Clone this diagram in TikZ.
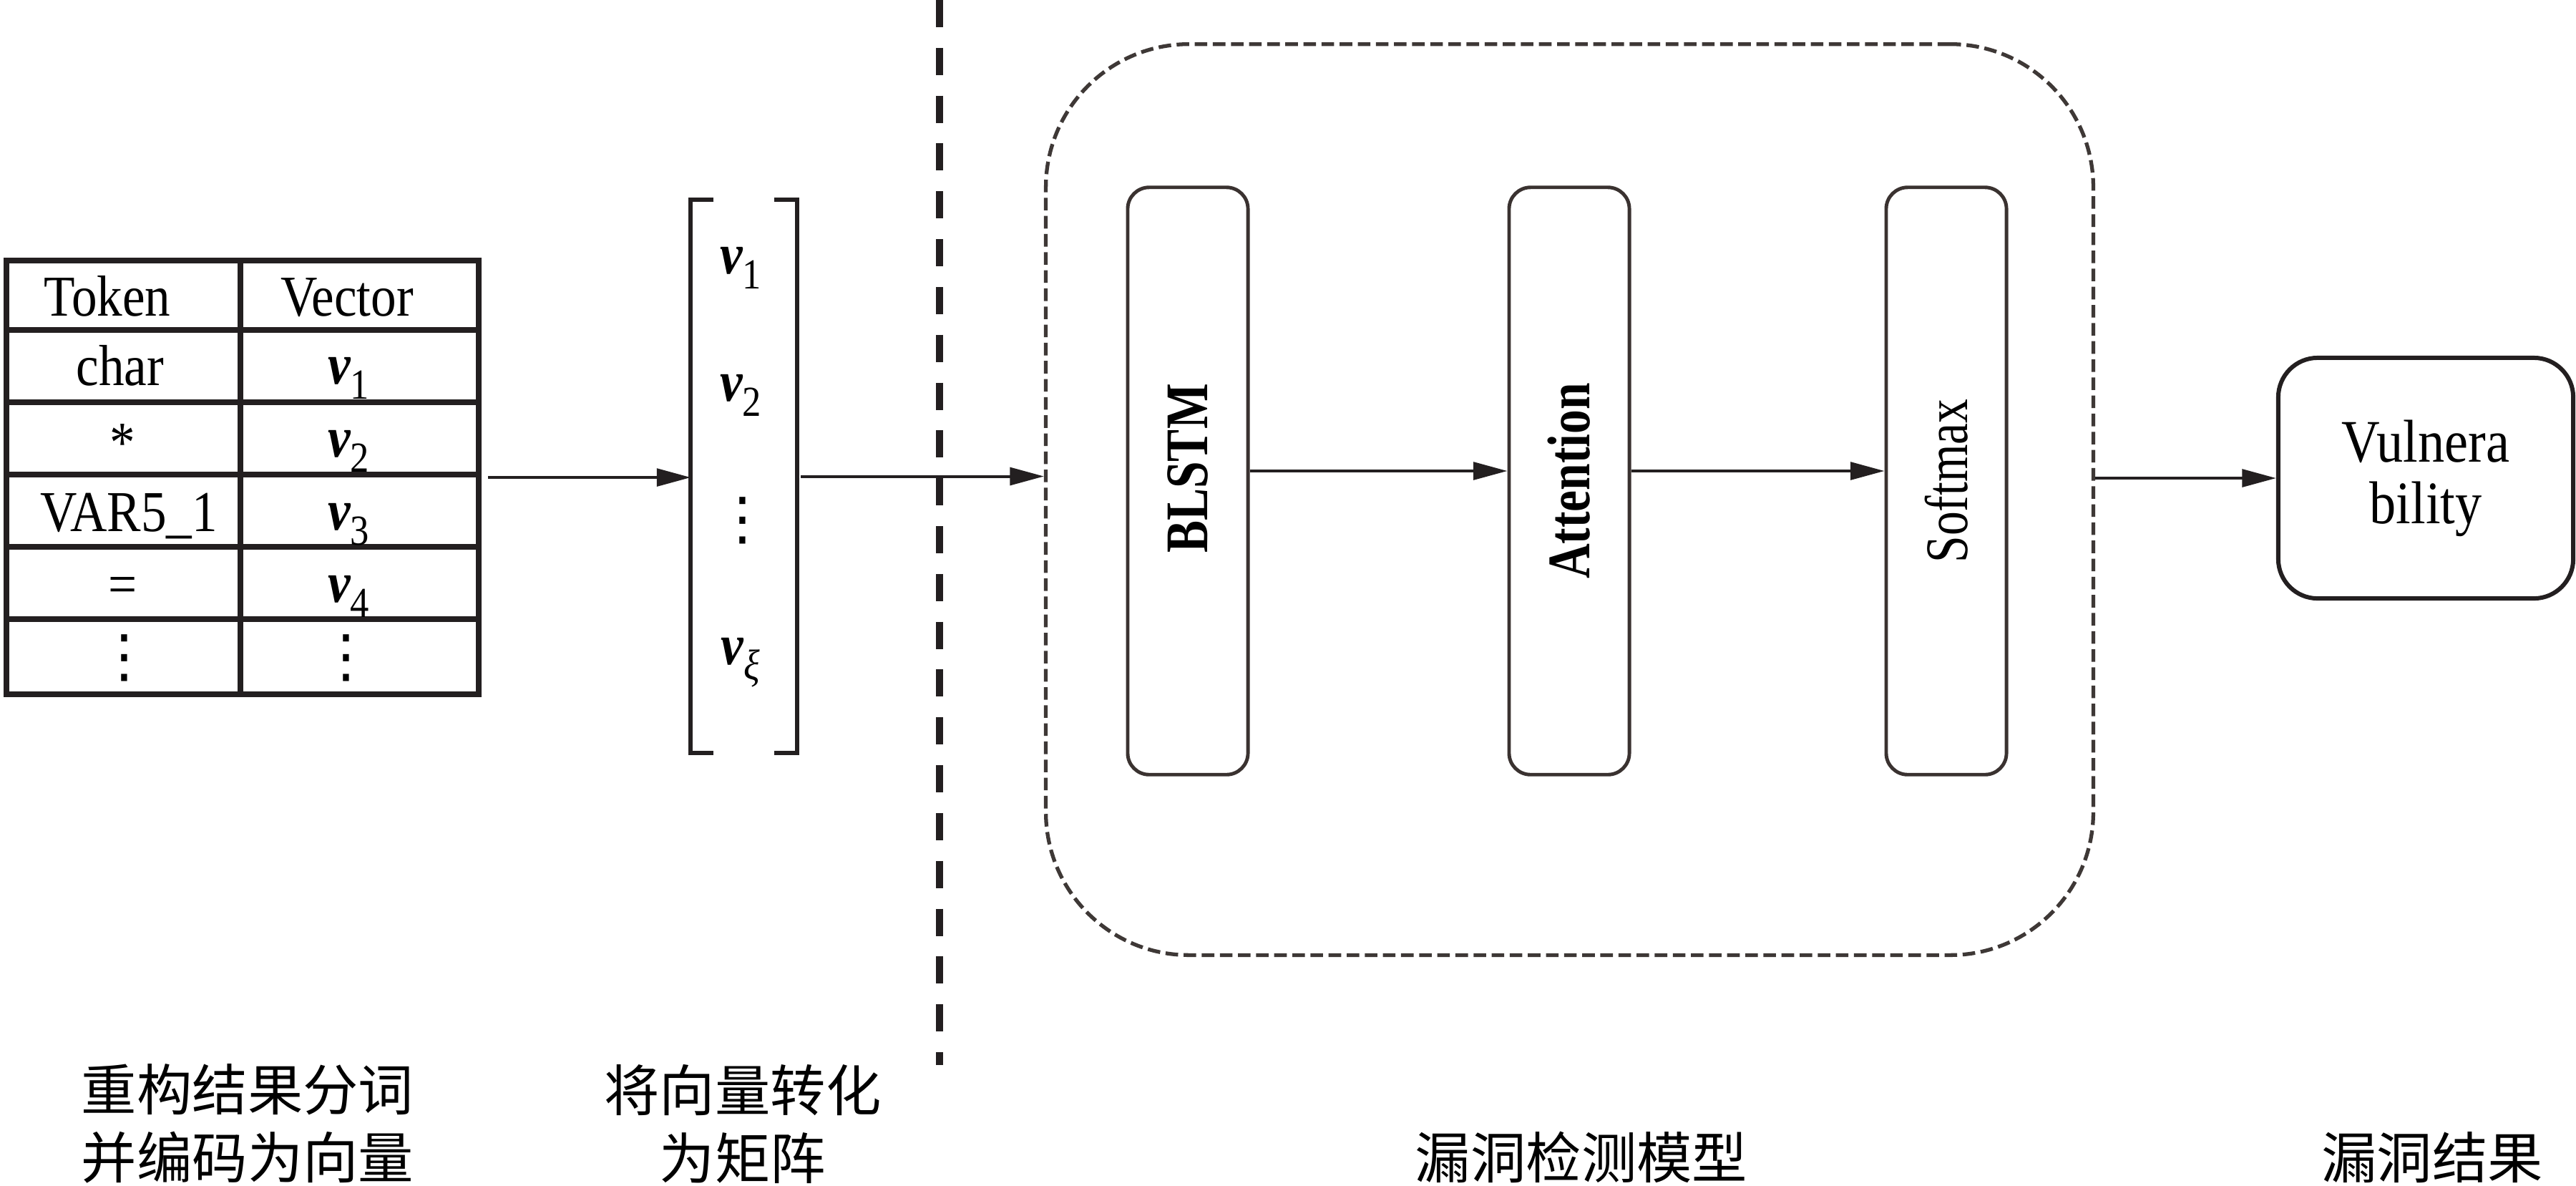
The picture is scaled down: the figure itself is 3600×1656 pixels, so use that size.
\documentclass[tikz,border=0pt]{standalone}
\usepackage{fontspec}
\setmainfont{Liberation Serif}[FakeStretch=0.88]
\newfontfamily\condfont{Liberation Serif}[FakeStretch=0.8]
\newfontfamily\cjk{Noto Sans CJK SC}
\newfontfamily\symf{DejaVu Sans}
\usetikzlibrary{arrows.meta}
\definecolor{ink}{RGB}{35,31,32}
\definecolor{boxc}{RGB}{58,50,48}
\definecolor{dashc}{RGB}{62,56,54}
\newcommand\vsub[1]{{\bfseries\itshape v}\raisebox{-0.27em}{\fontsize{17}{17}\selectfont #1}}
\tikzset{
  tx/.style={font=\fontsize{23}{26}\selectfont, inner sep=0pt},
  dotsx/.style={font=\symf\fontsize{23}{23}\selectfont, inner sep=0pt},
  tline/.style={draw=ink, line width=2.2pt},
  brk/.style={draw=ink, line width=1.8pt},
  arr/.style={draw=ink, line width=1.15pt, -{Triangle[length=13.5pt,width=7pt]}},
  sepline/.style={draw=ink, line width=2.6pt, dash pattern=on 10.8pt off 8.2pt},
  modelbox/.style={draw=dashc, line width=1.5pt, dash pattern=on 5pt off 2.2pt, rounded corners=2cm, inner sep=0pt},
  layerbox/.style={draw=boxc, line width=1.4pt, rounded corners=0.3cm, minimum width=1.68cm, minimum height=8.2cm, inner sep=0pt, font=\condfont\fontsize{24}{24}\selectfont},
  vulbox/.style={draw=ink, line width=1.7pt, rounded corners=0.55cm, minimum width=4.12cm, minimum height=3.36cm, inner sep=0pt, align=center, font=\fontsize{24}{24.5}\selectfont},
  cn/.style={font=\cjk\fontsize{22}{27}\selectfont, align=center, inner sep=0pt},
}
\begin{document}
\begin{tikzpicture}[x=0.01cm,y=-0.01cm]
\fill[white] (0,0) rectangle (3600,1656);
\useasboundingbox (0,0) rectangle (3600,1656);

% table
\node[tline, minimum width=6.6cm, minimum height=6.06cm, inner sep=0pt, anchor=north west] (tbl) at (5,360) {};
\foreach \yy in {461,562,663,764,865} \draw[tline] (5,\yy) -- (665,\yy);
\draw[tline] (336,360) -- (336,966);

\node[tx,anchor=base] (t0) at (150,441) {Token};
\node[tx,anchor=base] (t1) at (168,538) {char};
\node[tx,anchor=base] (t2) at (171,645) {*};
\node[tx,anchor=base] (t3) at (180,742) {VAR5\_1};
\node[tx,anchor=base] (t4) at (172,843) {=};
\node[dotsx] (t5) at (174,919) {⋮};
\node[tx,anchor=base] (w0) at (485,441) {Vector};
\node[tx,anchor=base] (w1) at (487,536) {\vsub{1}};
\node[tx,anchor=base] (w2) at (487,638) {\vsub{2}};
\node[tx,anchor=base] (w3) at (487,740) {\vsub{3}};
\node[tx,anchor=base] (w4) at (487,841) {\vsub{4}};
\node[dotsx] (w5) at (484,919) {⋮};

% matrix
\node[inner sep=0pt, minimum width=1.47cm, minimum height=7.71cm] (mat) at (1039.5,665.5) {};
\draw[brk] ([xshift=0.32cm]mat.north west) -- (mat.north west) -- (mat.south west) -- ([xshift=0.32cm]mat.south west);
\draw[brk] ([xshift=-0.32cm]mat.north east) -- (mat.north east) -- (mat.south east) -- ([xshift=-0.32cm]mat.south east);
\node[tx,anchor=base] (m1) at (1035,382) {\vsub{1}};
\node[tx,anchor=base] (m2) at (1035,560) {\vsub{2}};
\node[dotsx] (m3) at (1038,727) {⋮};
\node[tx,anchor=base] (m4) at (1035,928) {\vsub{\itshape ξ}};

% separator
\coordinate (s1) at (1313,0);
\coordinate (s2) at (1313,1488);
\draw[sepline] (s1) -- (s2);

% model
\node[modelbox, minimum width=14.63cm, minimum height=12.72cm] (model) at (2193.5,698) {};
\node[layerbox] (blstm) at (1660,672) {\rotatebox{90}{\hspace*{10pt}\bfseries BLSTM}};
\node[layerbox] (attn) at (2193,672) {\rotatebox{90}{\bfseries Attention}};
\node[layerbox] (soft) at (2720,672) {\rotatebox{90}{Softmax}};

% result
\node[vulbox] (vul) at (3390,668) {Vulnera\\bility};

% arrows
\coordinate (ay) at (0,658);
\draw[arr, shorten <=2.5pt] (tbl.east) -- (tbl.east -| mat.west);
\draw[arr, shorten <=1.5pt] (mat.east) -- (mat.east -| model.west);
\draw[arr] (blstm.east |- ay) -- (attn.west |- ay);
\draw[arr] (attn.east |- ay) -- (soft.west |- ay);
\draw[arr] (model.east |- vul.west) -- (vul.west);

% labels
\node[cn] (c1) at (346,1570) {重构结果分词\\并编码为向量};
\node[cn] (c2) at (1038,1570) {将向量转化\\为矩阵};
\node[cn,anchor=base] (c3) at (2210,1646) {漏洞检测模型};
\node[cn,anchor=base] (c4) at (3399,1646) {漏洞结果};
\end{tikzpicture}
\end{document}
